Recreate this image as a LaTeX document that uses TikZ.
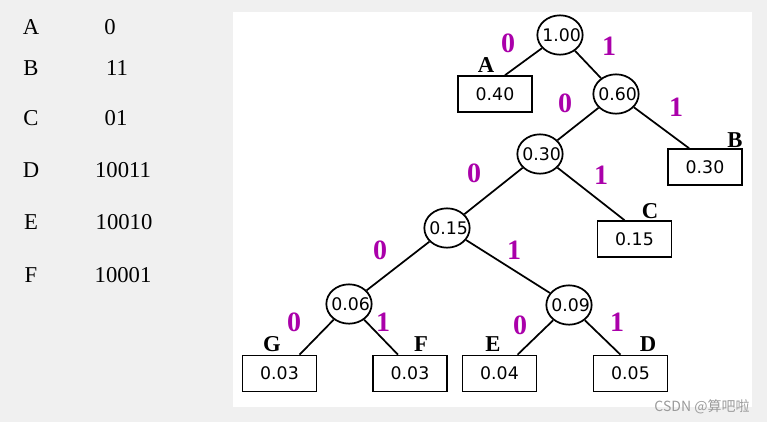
\documentclass[tikz,border=0pt]{standalone}
\usepackage{fontspec}
\setmainfont{Liberation Serif}
\newfontfamily\numfont{DejaVu Sans}
\newfontfamily\cjk{Noto Sans CJK SC}
\usepackage{xcolor}
\usetikzlibrary{shapes, positioning, calc}
\definecolor{bitpink}{RGB}{170,0,170}
\definecolor{bggray}{RGB}{240,240,240}
\definecolor{markgray}{RGB}{155,155,155}
\newcommand{\sumval}[1]{\makebox[0pt]{\kern2.5pt#1}}
\tikzset{
    sum/.style={
        ellipse,
        line width=1.3pt,
        draw=black,
        minimum width=34pt,
        minimum height=29.5pt,
        inner sep=0pt,
        font=\numfont\fontsize{13}{13}\selectfont,
    },
    leaf/.style={
        rectangle,
        line width=1.2pt,
        draw=black,
        minimum width=55.5pt,
        minimum height=27pt,
        font=\numfont\fontsize{13}{13}\selectfont,
    },
    branch/.style={line width=1.3pt},
    bit/.style={text=bitpink, inner sep=0pt, font=\bfseries\fontsize{21}{21}\selectfont},
    sym/.style={inner sep=0pt, font=\bfseries\fontsize{17}{17}\selectfont},
    code/.style={inner sep=0pt, font=\fontsize{17}{17}\selectfont},
}

\begin{document}
\begin{tikzpicture}[x=0.75pt, y=-0.75pt]
      \useasboundingbox (0,0) rectangle (767,422);
      \fill[bggray] (0,0) rectangle (767,422);
      \fill[white] (233,12) rectangle (752,407);

      % code table
      \node [code] (kA) at (31,27) {A};
      \node [code] (kB) at (31,68) {B};
      \node [code] (kC) at (31,118) {C};
      \node [code] (kD) at (31,170) {D};
      \node [code] (kE) at (31,222) {E};
      \node [code] (kF) at (31,275) {F};
      \node [code] (cA) at (110,27) {0};
      \node [code] (cB) at (117,68) {11};
      \node [code] (cC) at (116,118) {01};
      \node [code] (cD) at (123,170) {10011};
      \node [code] (cE) at (124,222) {10010};
      \node [code] (cF) at (123,275) {10001};

      % tree
      \node [sum] (n100) at (560,35) {\sumval{1.00}};
      \node [sum] (n060) at (616,94) {\sumval{0.60}};
      \node [sum] (n030) at (540,154) {\sumval{0.30}};
      \node [sum] (n015) at (447,228) {\sumval{0.15}};
      \node [sum] (n006) at (349,304) {\sumval{0.06}};
      \node [sum] (n009) at (569,305) {\sumval{0.09}};

      \node [leaf] (lA) at (495,94) {0.40};
      \node [leaf] (lB) at (705,167) {0.30};
      \node [leaf] (lC) at (634.5,239) {0.15};
      \node [leaf] (lG) at (279.5,373.5) {0.03};
      \node [leaf] (lF) at (410,373.5) {0.03};
      \node [leaf] (lE) at (499.5,373.5) {0.04};
      \node [leaf] (lD) at (630.5,373.5) {0.05};

      \node [sym] (sA) at (486,65) {A};
      \node [sym] (sB) at (735,140) {B};
      \node [sym] (sC) at (650,211) {C};
      \node [sym] (sG) at (272,344) {G};
      \node [sym] (sF) at (421,344) {F};
      \node [sym] (sE) at (493,344) {E};
      \node [sym] (sD) at (648,344) {D};

      \path[branch] (n100) edge ([xshift=7.5pt]lA.north);
      \path[branch] (n100) edge (n060);
      \path[branch] (n060) edge (n030);
      \path[branch] (n060) edge ([xshift=-12pt]lB.north);
      \path[branch] (n030) edge (n015);
      \path[branch] (n030) edge ([xshift=-7.5pt]lC.north);
      \path[branch] (n015) edge (n006);
      \path[branch] (n015) edge (n009);
      \path[branch] (n006) edge ([xshift=15pt]lG.north);
      \path[branch] (n006) edge ([xshift=-9pt]lF.north);
      \path[branch] (n009) edge ([xshift=13.5pt]lE.north);
      \path[branch] (n009) edge ([xshift=-7.5pt]lD.north);

      \node [bit] (b1) at (508,43) {0};
      \node [bit] (b2) at (609,46) {1};
      \node [bit] (b3) at (565,103) {0};
      \node [bit] (b4) at (676,107) {1};
      \node [bit] (b5) at (474,173) {0};
      \node [bit] (b6) at (601,175) {1};
      \node [bit] (b7) at (380,250) {0};
      \node [bit] (b8) at (514,250) {1};
      \node [bit] (b9) at (294,322) {0};
      \node [bit] (b10) at (383,322) {1};
      \node [bit] (b11) at (520,325) {0};
      \node [bit] (b12) at (617,322) {1};

      \node [text=markgray, inner sep=0pt, font=\cjk\fontsize{10.5}{10.5}\selectfont] (mark) at (702,407) {CSDN @算吧啦};
    \end{tikzpicture}
\end{document}
